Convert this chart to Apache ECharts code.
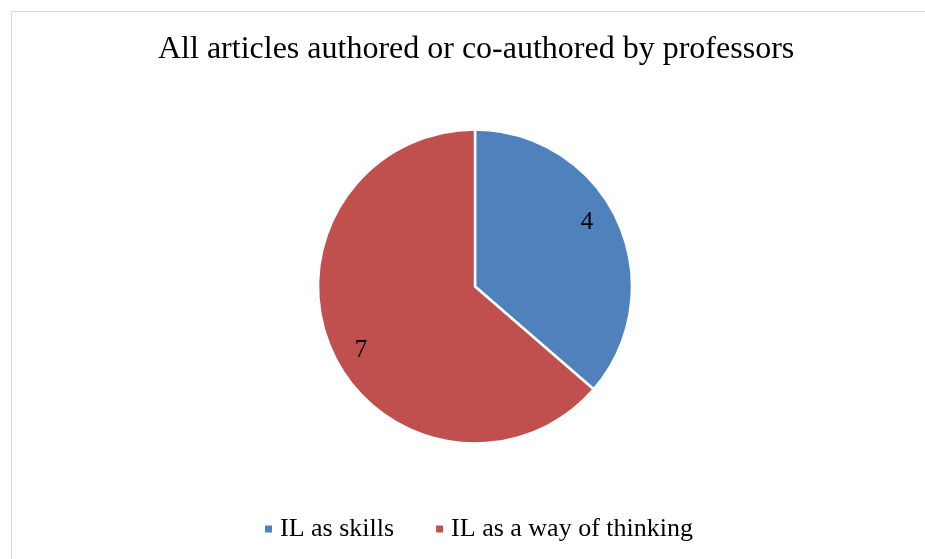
<!DOCTYPE html>
<html>
<head>
<meta charset="utf-8">
<script src="https://cdn.jsdelivr.net/npm/echarts@6/dist/echarts.min.js"></script>
<style>
html,body{margin:0;padding:0;background:#fff;}
#main{width:925px;height:559px;}
</style>
</head>
<body>
<div id="main"></div>
<script>
const titleText = 'All articles authored or co-authored by professors';
const categories = ['IL as skills', 'IL as a way of thinking'];
const values = [4, 7];
const colors = ['#4F81BD', '#C0504D'];

const data = categories.map((c, i) => ({ name: c, value: values[i], itemStyle: { color: colors[i] } }));
const serif = '"Liberation Serif", "Times New Roman", serif';

const chart = echarts.init(document.getElementById('main'));
chart.setOption({
  animation: false,
  backgroundColor: '#fff',
  graphic: [{
    type: 'rect',
    shape: { x: 11.5, y: 11.5, width: 930, height: 560 },
    style: { fill: 'none', stroke: '#d9d9d9', lineWidth: 1 },
    silent: true
  }, {
    type: 'text',
    left: 158,
    top: 34,
    style: { text: titleText, font: '32px ' + serif, fill: '#000' },
    silent: true
  }],
  legend: {
    top: 511,
    left: 258,
    icon: 'rect',
    itemWidth: 9,
    itemHeight: 9,
    itemGap: 40,
    textStyle: { fontFamily: serif, fontSize: 26, color: '#000', padding: [0, 0, 0, 2] },
    data: categories
  },
  series: [{
    type: 'pie',
    center: [475, 286.5],
    radius: [0, 157],
    startAngle: 90,
    clockwise: true,
    data: data,
    label: { show: false },
    labelLine: { show: false },
    itemStyle: { borderColor: '#fff', borderWidth: 2.5 },
    emphasis: { disabled: true }
  }, {
    type: 'pie',
    center: [475, 286.5],
    radius: [97, 157],
    startAngle: 95,
    clockwise: true,
    silent: true,
    legendHoverLink: false,
    data: categories.map((c, i) => ({ name: c, value: values[i] })),
    itemStyle: { color: 'rgba(0,0,0,0)' },
    label: { show: true, position: 'inside', formatter: '{c}', fontFamily: serif, fontSize: 25, color: '#000', padding: [8, 2, 0, 0] },
    labelLine: { show: false },
    emphasis: { disabled: true }
  }]
});
</script>
</body>
</html>
